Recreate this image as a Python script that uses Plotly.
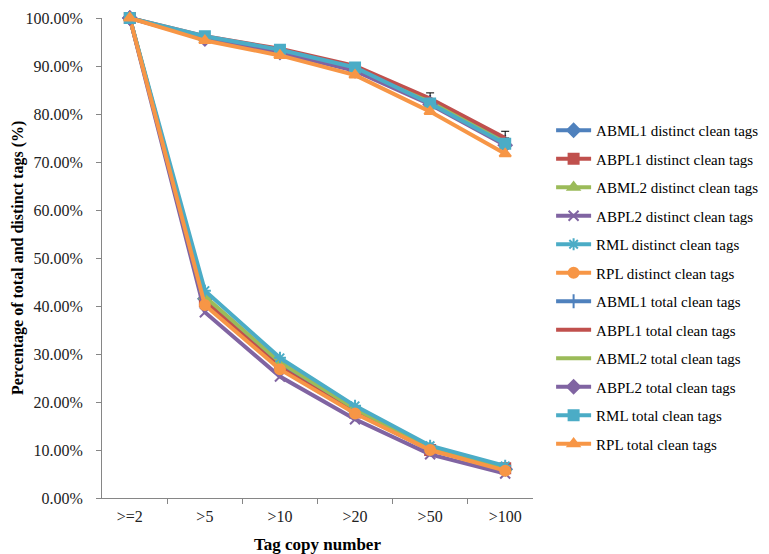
import plotly.graph_objects as go

CATEGORIAS = [">=2", ">5", ">10", ">20", ">50", ">100"]

# distinct clean tags
ABML1_DISTINCT = [1.0, 0.415, 0.278, 0.182, 0.102, 0.060]
ABPL1_DISTINCT = [1.0, 0.410, 0.272, 0.178, 0.100, 0.062]
ABML2_DISTINCT = [1.0, 0.420, 0.283, 0.186, 0.105, 0.062]
ABPL2_DISTINCT = [1.0, 0.387, 0.253, 0.164, 0.091, 0.051]
RML_DISTINCT = [1.0, 0.432, 0.292, 0.192, 0.109, 0.067]
RPL_DISTINCT = [1.0, 0.402, 0.268, 0.176, 0.100, 0.057]

# total clean tags
ABML1_TOTAL = [1.0, 0.958, 0.931, 0.893, 0.825, 0.742]
ABPL1_TOTAL = [1.0, 0.962, 0.936, 0.900, 0.832, 0.750]
ABML2_TOTAL = [1.0, 0.958, 0.930, 0.892, 0.825, 0.740]
ABPL2_TOTAL = [1.0, 0.956, 0.928, 0.890, 0.820, 0.735]
RML_TOTAL = [1.0, 0.962, 0.934, 0.897, 0.822, 0.738]
RPL_TOTAL = [1.0, 0.953, 0.922, 0.881, 0.805, 0.717]

ABPL1_TOTAL_ERRO = [0, 0, 0, 0, 0.012, 0.014]

CORES = {
    "azul": "#4F81BD",
    "vermelho": "#C0504D",
    "verde": "#9BBB59",
    "roxo": "#8064A2",
    "turquesa": "#4BACC6",
    "laranja": "#F79646",
}

SERIES = [
    ("ABML1 distinct clean tags", ABML1_DISTINCT, CORES["azul"], "diamond"),
    ("ABPL1 distinct clean tags", ABPL1_DISTINCT, CORES["vermelho"], "square"),
    ("ABML2 distinct clean tags", ABML2_DISTINCT, CORES["verde"], "triangle-up"),
    ("ABPL2 distinct clean tags", ABPL2_DISTINCT, CORES["roxo"], "x-thin-open"),
    ("RML distinct clean tags", RML_DISTINCT, CORES["turquesa"], "asterisk-open"),
    ("RPL distinct clean tags", RPL_DISTINCT, CORES["laranja"], "circle"),
    ("ABML1 total clean tags", ABML1_TOTAL, CORES["azul"], "line-ns-open"),
    ("ABPL1 total clean tags", ABPL1_TOTAL, CORES["vermelho"], None),
    ("ABML2 total clean tags", ABML2_TOTAL, CORES["verde"], None),
    ("ABPL2 total clean tags", ABPL2_TOTAL, CORES["roxo"], "diamond"),
    ("RML total clean tags", RML_TOTAL, CORES["turquesa"], "square"),
    ("RPL total clean tags", RPL_TOTAL, CORES["laranja"], "triangle-up"),
]

FONTE = "Liberation Serif, Times New Roman, serif"

fig = go.Figure()

for i, (nome, valores, cor, simbolo) in enumerate(SERIES):
    marker = dict(size=10, color=cor, symbol=simbolo or "circle",
                  line=dict(width=2, color=cor))
    trace = go.Scatter(
        x=CATEGORIAS,
        y=valores,
        name=nome,
        mode="lines+markers" if simbolo else "lines",
        line=dict(color=cor, width=4),
        marker=marker,
        cliponaxis=False,
        legendgroup=str(i),
    )
    if nome.startswith("ABPL1 total"):
        trace.error_y = dict(type="data", array=ABPL1_TOTAL_ERRO,
                             arrayminus=[0] * len(ABPL1_TOTAL_ERRO),
                             color="black", thickness=1, width=4)
    fig.add_trace(trace)

# a página tem 8px de margem no body, por isso a figura é 8px menor
fig.update_layout(
    width=761,
    height=546,
    template="plotly_white",
    paper_bgcolor="white",
    plot_bgcolor="white",
    font=dict(family=FONTE, size=15, color="#222222"),
    margin=dict(l=94, r=236, t=10, b=56, autoexpand=False),
    showlegend=True,
    legend=dict(
        x=1.042,
        xanchor="left",
        y=0.80,
        yanchor="top",
        font=dict(family=FONTE, size=15, color="black"),
        tracegroupgap=6,
        traceorder="grouped",
        itemwidth=35,
        bgcolor="rgba(0,0,0,0)",
    ),
)

# título do eixo y como anotação para controlar a posição
fig.add_annotation(
    text="<b>Percentage of total and distinct tags (%)</b>",
    xref="paper", yref="paper",
    x=-84 / 431, y=0.5,
    xanchor="center", yanchor="middle",
    textangle=-90,
    showarrow=False,
    font=dict(family=FONTE, size=16, color="black"),
)

fig.update_xaxes(
    automargin=False,
    showgrid=False,
    showline=True,
    linecolor="#868686",
    linewidth=1,
    ticks="outside",
    tickson="boundaries",
    ticklen=5,
    tickcolor="#868686",
    ticklabelstandoff=4,
    tickfont=dict(family=FONTE, size=16, color="#222222"),
    title=dict(text="<b>Tag copy number</b>",
               font=dict(family=FONTE, size=17, color="black"),
               standoff=14),
)

fig.update_yaxes(
    automargin=False,
    range=[0, 1],
    dtick=0.1,
    tickformat=".2%",
    showgrid=False,
    zeroline=False,
    showline=True,
    linecolor="#868686",
    linewidth=1,
    ticks="outside",
    ticklen=5,
    tickcolor="#868686",
    ticklabelstandoff=10,
    ticklabeloverflow="allow",
    tickfont=dict(family=FONTE, size=16, color="#222222"),
)

fig.write_html("out.html")
